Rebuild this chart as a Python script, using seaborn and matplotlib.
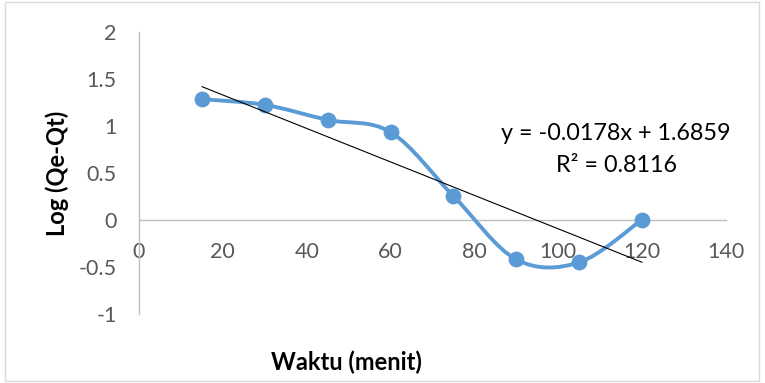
import numpy as np
import pandas as pd
import matplotlib
matplotlib.use("Agg")
import matplotlib.pyplot as plt
from matplotlib.path import Path
from matplotlib.patches import PathPatch, Rectangle
import seaborn as sns

# ---- data ----
waktu = [15, 30, 45, 60, 75, 90, 105, 120]
log_qe_qt = [1.285, 1.225, 1.065, 0.935, 0.255, -0.42, -0.45, 0.005]
slope = -0.0178
intercept = 1.6859
eq_text = "y = -0.0178x + 1.6859"
r2_text = "R² = 0.8116"
x_ticks = [0, 20, 40, 60, 80, 100, 120, 140]
y_ticks = [-1, -0.5, 0, 0.5, 1, 1.5, 2]
y_tick_labels = ["-1", "-0.5", "0", "0.5", "1", "1.5", "2"]
x_label = "Waktu (menit)"
y_label = "Log (Qe-Qt)"

sns.set_theme(style="white")
plt.rcParams["font.family"] = ["Lato", "DejaVu Sans"]

W, H = 765, 383
fig = plt.figure(figsize=(W / 100, H / 100), dpi=100)
ax = fig.add_axes([139 / W, 1 - 314 / H, (726 - 139) / W, (314 - 32) / H])

blue = "#5B9BD5"
grey = "#BFBFBF"
tick_col = "#595959"

df = pd.DataFrame({"x": waktu, "y": log_qe_qt})

# smooth (Catmull-Rom -> cubic Bezier) curve through the data points
pts = df[["x", "y"]].to_numpy(dtype=float)
verts = [tuple(pts[0])]
codes = [Path.MOVETO]
n = len(pts)
for i in range(n - 1):
    p0 = pts[i - 1] if i > 0 else pts[i]
    p1 = pts[i]
    p2 = pts[i + 1]
    p3 = pts[i + 2] if i + 2 < n else pts[i + 1]
    c1 = p1 + (p2 - p0) / 6.0
    c2 = p2 - (p3 - p1) / 6.0
    verts += [tuple(c1), tuple(c2), tuple(p2)]
    codes += [Path.CURVE4] * 3
ax.add_patch(PathPatch(Path(verts, codes), facecolor="none", edgecolor=blue,
                       lw=2.8, capstyle="round", joinstyle="round", zorder=3))

sns.scatterplot(data=df, x="x", y="y", ax=ax, color=blue, s=130,
                edgecolor=blue, linewidth=0, zorder=4, legend=False)

# linear trendline
tx = np.array([min(waktu), max(waktu)], dtype=float)
trend = pd.DataFrame({"x": tx, "y": slope * tx + intercept})
sns.lineplot(data=trend, x="x", y="y", ax=ax, color="black", lw=0.8, zorder=5)

ax.set_xlim(0, 140)
ax.set_ylim(-1, 2)
ax.set_xticks(x_ticks)
ax.set_xticklabels([str(t) for t in x_ticks])
ax.set_yticks(y_ticks)
ax.set_yticklabels(y_tick_labels)
ax.set_xlabel("")
ax.set_ylabel("")

for s in ["top", "right"]:
    ax.spines[s].set_visible(False)
ax.spines["bottom"].set_position(("data", 0))
for s in ["left", "bottom"]:
    ax.spines[s].set_color(grey)
    ax.spines[s].set_linewidth(1.0)
ax.tick_params(axis="both", length=0, labelsize=15.5, labelcolor=tick_col)
ax.tick_params(axis="x", pad=16)
ax.tick_params(axis="y", pad=16)
ax.grid(False)
ax.set_facecolor("none")

ax.text(616 / W, 1 - 133 / H, eq_text, transform=fig.transFigure,
        ha="center", va="center", fontsize=16.8, color="black")
ax.text(617 / W, 1 - 165 / H, r2_text, transform=fig.transFigure,
        ha="center", va="center", fontsize=16.8, color="black")

fig.text(346 / W, 1 - 362 / H, x_label, ha="center", va="center",
         fontsize=17, fontweight="bold", color="black")
fig.text(57 / W, 1 - 173 / H, y_label, ha="center", va="center",
         rotation=90, fontsize=17, fontweight="bold", color="black")

fig.patches.append(Rectangle((5 / W, 2 / H), (759 - 5) / W, (381 - 2) / H,
                             transform=fig.transFigure, fill=False,
                             edgecolor="#D9D9D9", lw=1.0))

fig.savefig("out.png", dpi=100)
